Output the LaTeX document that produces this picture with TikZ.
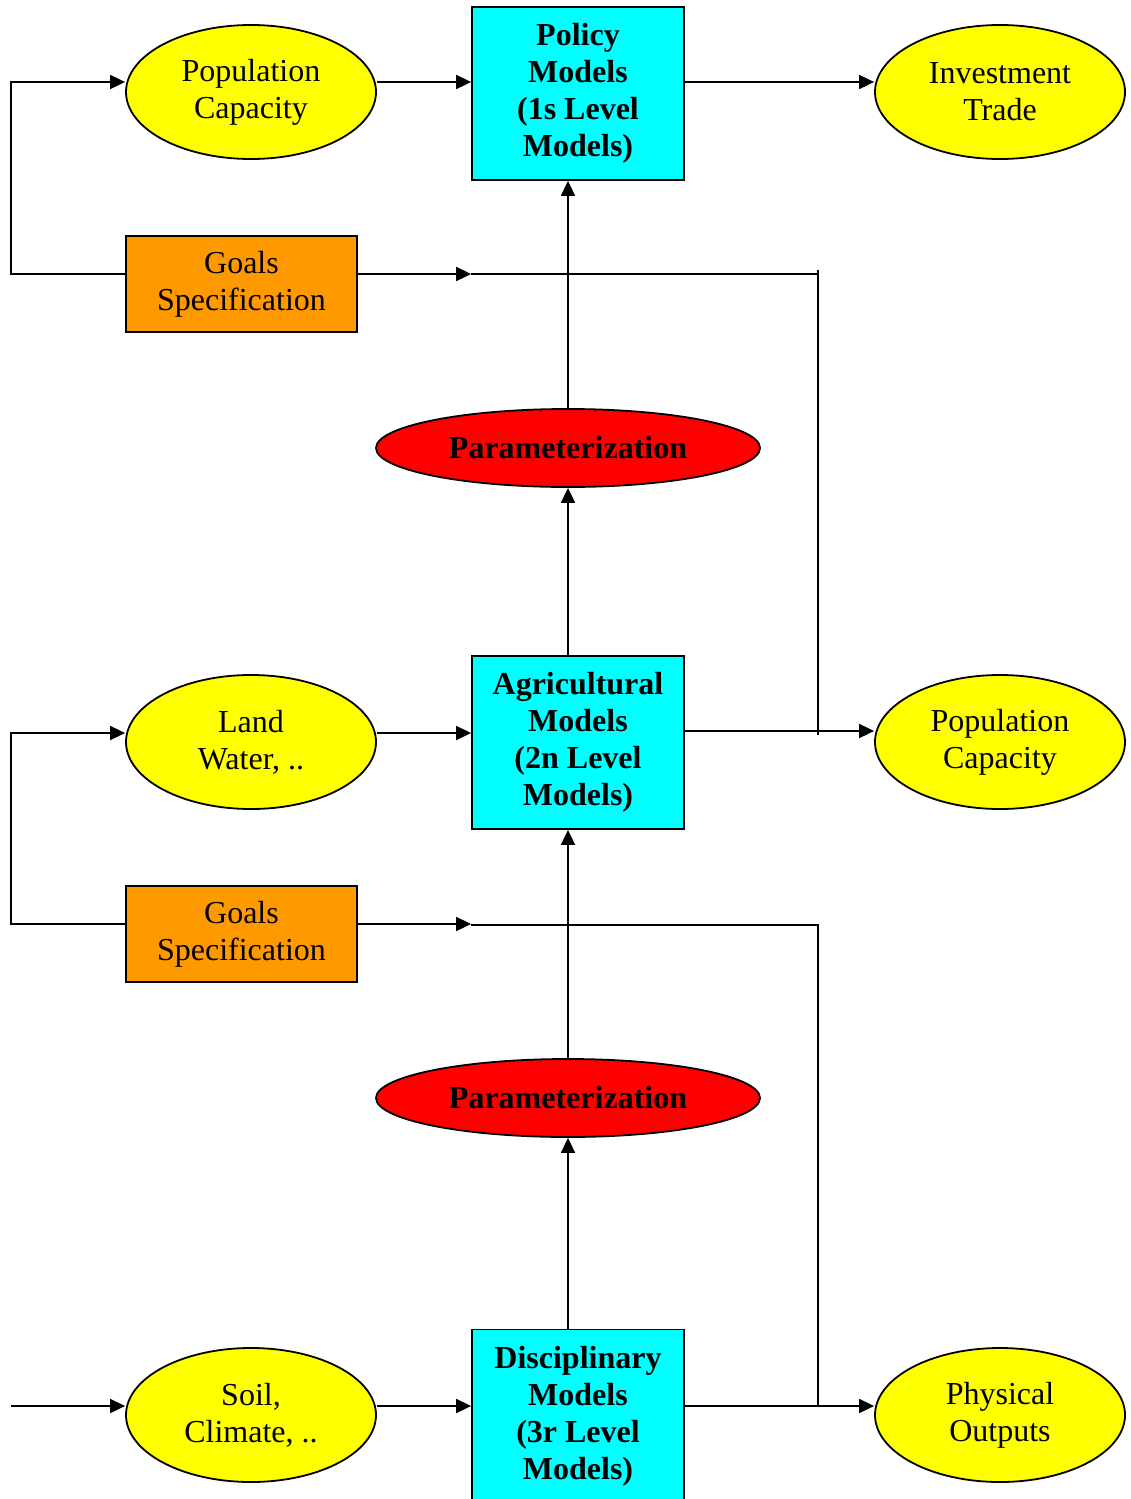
\documentclass[tikz,border=0pt]{standalone}
\usepackage{fontspec}
\setmainfont{Liberation Serif}
\usetikzlibrary{shapes.geometric,arrows.meta}
\definecolor{goalorange}{RGB}{255,153,0}
\definecolor{boxcyan}{RGB}{0,255,255}
\definecolor{ovalyellow}{RGB}{255,255,0}
\definecolor{paramred}{RGB}{255,0,0}
\begin{document}
\begin{tikzpicture}[x=1pt,y=-1pt,
  every node/.style={font=\fontsize{32}{37}\selectfont, align=center, line width=1.8pt, draw=black},
  oval/.style={ellipse, fill=ovalyellow, minimum width=250pt, minimum height=134pt, inner sep=0pt},
  model/.style={rectangle, fill=boxcyan, minimum width=212pt, minimum height=173pt, inner sep=0pt, font=\fontsize{32}{37}\selectfont\bfseries},
  goal/.style={rectangle, fill=goalorange, minimum width=231pt, minimum height=96pt, inner sep=0pt},
  param/.style={ellipse, fill=paramred, minimum width=384pt, minimum height=78pt, inner sep=0pt, font=\fontsize{32}{37}\selectfont\bfseries},
  arr/.style={-{Triangle[length=15pt,width=14pt]}, line width=1.8pt},
  ln/.style={line width=1.8pt}]
\useasboundingbox (0,0) rectangle (1130,1499);

% nodes
\node[model] (pol) at (578,93.5) {Policy\\Models\\(1s Level\\Models)};
\node[oval] (pc1) at (251,92) {Population\\Capacity};
\node[oval] (inv) at (1000,92) {Investment\\Trade};
\node[goal] (g1) at (241.5,284) {Goals\\Specification};
\node[param] (par1) at (568,448) {Parameterization};
\node[model] (agr) at (578,742.5) {Agricultural\\Models\\(2n Level\\Models)};
\node[oval] (land) at (251,742) {Land\\Water, ..};
\node[oval] (pc2) at (1000,742) {Population\\Capacity};
\node[goal] (g2) at (241.5,934) {Goals\\Specification};
\node[param] (par2) at (568,1098) {Parameterization};
\node[model] (dis) at (578,1416) {Disciplinary\\Models\\(3r Level\\Models)};
\node[oval] (soil) at (251,1415) {Soil,\\Climate, ..};
\node[oval] (phy) at (1000,1415) {Physical\\Outputs};

% helper coordinates
\coordinate (y1) at (0,82);
\coordinate (l1b) at (11,274);
\coordinate (l1t) at (11,82);
\coordinate (r1t) at (818,274);
\coordinate (r1top) at (818,270);
\coordinate (r1b) at (818,735);
\coordinate (y3) at (0,733);
\coordinate (y4) at (0,731);
\coordinate (l2b) at (11,924);
\coordinate (l2t) at (11,733);
\coordinate (h2) at (0,925);
\coordinate (r2t) at (818,925);
\coordinate (r2b) at (818,1406);
\coordinate (y5) at (0,1406);
\coordinate (lin) at (11,1406);

% top level
\draw[arr] (pc1.east |- y1) -- (pol.west |- y1);
\draw[arr] (pol.east |- y1) -- (inv.west |- y1);
\draw[arr] (g1.west |- l1b) -- (l1b) -- (l1t) -- (pc1.west |- l1t);
\draw[arr] (g1.east |- l1b) -- (pol.west |- l1b);
\draw[ln] (pol.west |- l1b) -- (r1t);
\draw[ln] (r1top) -- (r1b);
\draw[arr] (par1.north) -- (par1.north |- pol.south);

% middle level
\draw[arr] (par1.south |- agr.north) -- (par1.south);
\draw[arr] (land.east |- y3) -- (agr.west |- y3);
\draw[arr] (agr.east |- y4) -- (pc2.west |- y4);
\draw[arr] (g2.west |- l2b) -- (l2b) -- (l2t) -- (land.west |- l2t);
\draw[arr] (g2.east |- l2b) -- (agr.west |- l2b);
\draw[ln] (agr.west |- h2) -- (r2t) -- (r2b);
\draw[arr] (par2.north) -- (par2.north |- agr.south);

% bottom level
\draw[arr] (par2.south |- dis.north) -- (par2.south);
\draw[arr] (lin) -- (soil.west |- y5);
\draw[arr] (soil.east |- y5) -- (dis.west |- y5);
\draw[arr] (dis.east |- y5) -- (phy.west |- y5);
\end{tikzpicture}
\end{document}
